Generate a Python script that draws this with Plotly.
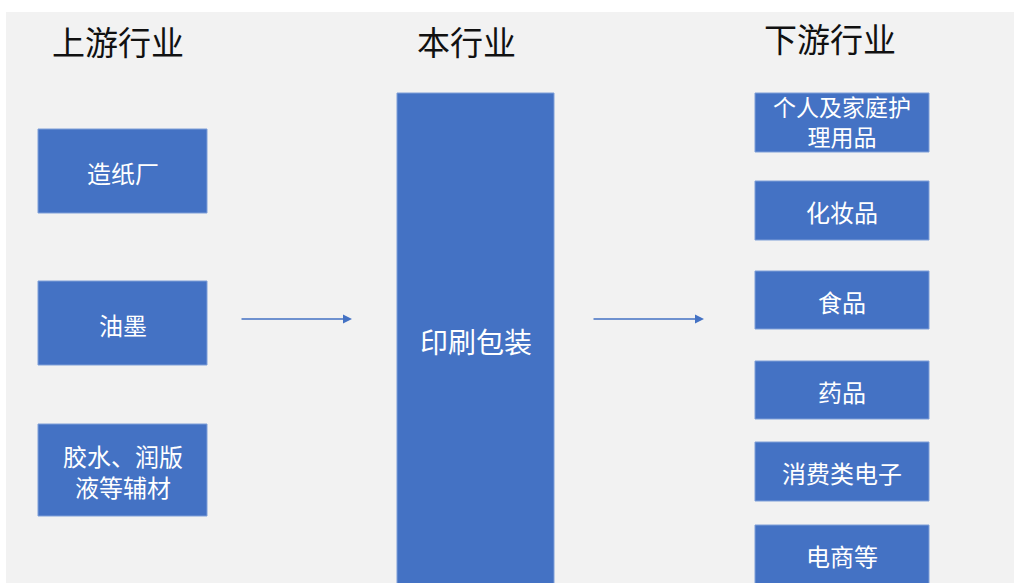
import plotly.graph_objects as go

headers = ["上游行业", "本行业", "下游行业"]
upstream = ["造纸厂", "油墨", "胶水、润版<br>液等辅材"]
middle = ["印刷包装"]
downstream = ["个人及家庭护<br>理用品", "化妆品", "食品", "药品", "消费类电子", "电商等"]

W, H = 1014, 583
BLUE = "#4472C4"
FONT = "Noto Sans CJK SC"

fig = go.Figure()
shapes = []
annotations = []

# background panel
shapes.append(dict(type="rect", x0=6, x1=1030, y0=12, y1=600,
                   fillcolor="#F2F2F2", line=dict(width=0), layer="below"))

def box(x0, x1, y0, y1, text, size, ty=None):
    shapes.append(dict(type="rect", x0=x0, x1=x1, y0=y0, y1=y1,
                       fillcolor=BLUE, line=dict(color="#7F9FD8", width=1)))
    annotations.append(dict(x=(x0 + x1) / 2, y=ty if ty is not None else (y0 + y1) / 2 + 1,
                            text=text, showarrow=False, xref="x", yref="y",
                            font=dict(family=FONT, size=size, color="white"),
                            align="center"))

# headers
header_x = [118, 466, 830]
header_y = [41, 41, 38]
for t, hx, hy in zip(headers, header_x, header_y):
    annotations.append(dict(x=hx, y=hy, text=t, showarrow=False, xref="x", yref="y",
                            font=dict(family=FONT, size=33, color="#111111")))

# upstream boxes
up_pos = [(129, 213), (281, 365), (424, 516)]
for t, (y0, y1) in zip(upstream, up_pos):
    box(38, 207, y0, y1, t, 24)

# middle box
box(397, 554, 93, 600, middle[0], 28, ty=341)

# downstream boxes
down_pos = [(93, 152), (181, 240), (271, 329), (361, 419), (442, 501), (525, 600)]
down_ty = [121, None, None, None, None, 555]
for t, (y0, y1), ty in zip(downstream, down_pos, down_ty):
    box(755, 929, y0, y1, t, 23 if "<br>" in t else 24, ty=ty)

# arrows
for x0, x1 in [(240, 352), (592, 704)]:
    annotations.append(dict(x=x1, y=319, ax=x0, ay=319, xref="x", yref="y",
                            axref="x", ayref="y", text="", showarrow=True,
                            arrowhead=2, arrowsize=1.2, arrowwidth=1.5,
                            arrowcolor=BLUE))

fig.update_layout(
    width=W, height=H,
    margin=dict(l=0, r=0, t=0, b=0),
    paper_bgcolor="white", plot_bgcolor="white",
    xaxis=dict(range=[0, W], visible=False, fixedrange=True),
    yaxis=dict(range=[H, 0], visible=False, fixedrange=True),
    shapes=shapes, annotations=annotations, showlegend=False,
)

fig.write_html("out.html", config={"displayModeBar": False},
               post_script="document.body.style.margin='0px';document.body.style.overflow='hidden';")
